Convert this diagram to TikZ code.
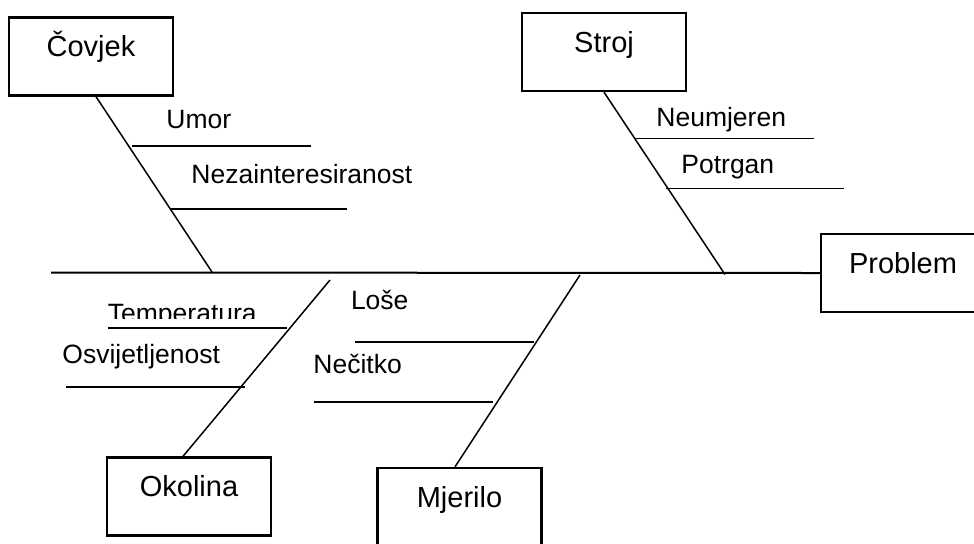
\documentclass[tikz,border=0pt]{standalone}
\usepackage{fontspec}
\setmainfont{Liberation Sans}
\usetikzlibrary{positioning,calc}
\tikzset{
  node-cause/.style={draw=black,line width=1.15pt,minimum width=82pt,minimum height=39pt,
    inner sep=0pt,text height=12pt,text depth=12pt,font=\fontsize{14.5}{17}\selectfont},
  node-sub/.style={anchor=base west,inner sep=0pt,font=\fontsize{13.25}{16}\selectfont},
  line-spine/.style={line width=1pt,draw=black},
  line-bone/.style={line width=0.75pt,draw=black},
  line-twig/.style={line width=0.75pt,draw=black},
}

\begin{document}
\begin{tikzpicture}[x=0.5pt,y=-0.5pt]
  \useasboundingbox (0,0) rectangle (974,543);
  \clip (0,0) rectangle (974,543);
  % cause boxes and the problem head
  \node[node-cause] (covjek) at (91,56.5) {Čovjek};
  \node[node-cause] (stroj) at (604,52) {Stroj};
  \node[node-cause] (problem) at (903,273) {Problem};
  \node[node-cause] (okolina) at (189,496.5) {Okolina};
  \node[node-cause] (mjerilo) at (459.5,507) {Mjerilo};
  % spine
  \coordinate (tail) at (51,272.5);
  \draw[line-spine] (tail) -- (problem.west);
  % main bones
  \coordinate (j-covjek) at (212,272);
  \coordinate (j-stroj) at (725,274.5);
  \coordinate (j-okolina) at (330,280);
  \coordinate (j-mjerilo) at (580,275);
  \draw[line-bone] ([xshift=2.5pt]covjek.south) -- (j-covjek);
  \draw[line-bone] (stroj.south) -- (j-stroj);
  \draw[line-bone] ([xshift=-3pt]okolina.north) -- (j-okolina);
  \draw[line-bone] ([xshift=-2.25pt]mjerilo.north) -- (j-mjerilo);
  % twigs
  \path (132,146) coordinate (umor-w) (311,146) coordinate (umor-e);
  \path (171,209) coordinate (nezain-w) (347,209) coordinate (nezain-e);
  \path (634,138.5) coordinate (neumj-w) (814,138.5) coordinate (neumj-e);
  \path (666,188.5) coordinate (potrg-w) (844,188.5) coordinate (potrg-e);
  \path (107.5,328) coordinate (temp-w) (287,328) coordinate (temp-e);
  \path (65.6,387) coordinate (osvj-w) (245,387) coordinate (osvj-e);
  \path (355,342) coordinate (lose-w) (534,342) coordinate (lose-e);
  \path (314,402) coordinate (necit-w) (493,402) coordinate (necit-e);
  \draw[line-twig] (umor-w) -- (umor-e);
  \draw[line-twig] (nezain-w) -- (nezain-e);
  \draw[line-twig] (neumj-w) -- (neumj-e);
  \draw[line-twig] (potrg-w) -- (potrg-e);
  \draw[line-twig] (temp-w) -- (temp-e);
  \draw[line-twig] (osvj-w) -- (osvj-e);
  \draw[line-twig] (lose-w) -- (lose-e);
  \draw[line-twig] (necit-w) -- (necit-e);
  % twig labels
  \node[node-sub] (umor) at (166,128) {Umor};
  \node[node-sub] (nezain) at (191,183) {Nezainteresiranost};
  \node[node-sub] (neumj) at (656,126) {Neumjeren};
  \node[node-sub] (potrg) at (681,173.5) {Potrgan};
  \begin{scope}
    \clip (0,0) rectangle (974,318);
    \node[node-sub] (temp) at (107.5,322) {Temperatura};
  \end{scope}
  \node[node-sub] (osvj) at (62,363) {Osvijetljenost};
  \node[node-sub] (lose) at (350.6,309) {Loše};
  \node[node-sub] (necit) at (313,373) {Nečitko};
\end{tikzpicture}
\end{document}
